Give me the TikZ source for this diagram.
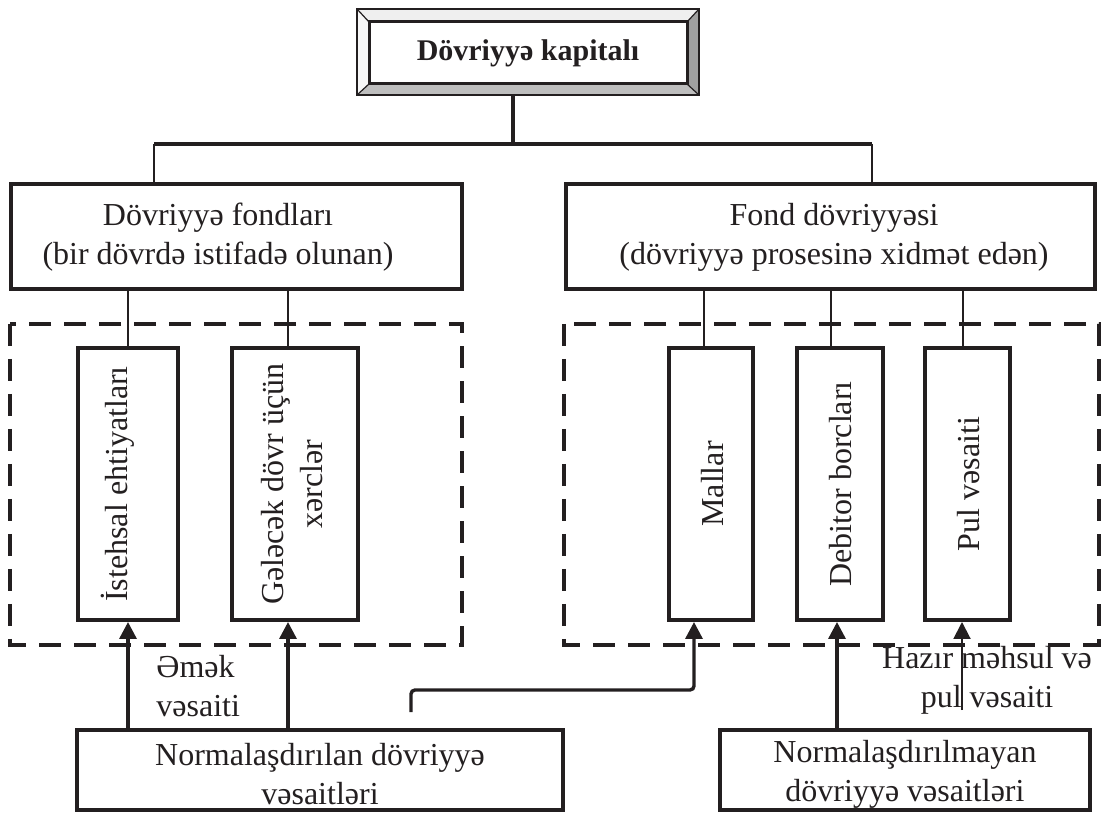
\documentclass[tikz,border=0pt]{standalone}
\usepackage{fontspec}
\setmainfont{Liberation Serif}
\usetikzlibrary{arrows.meta,calc}
\definecolor{ink}{HTML}{231F20}
\definecolor{bevtop}{HTML}{EFEFEF}
\definecolor{bevleft}{HTML}{F7F7F7}
\definecolor{bevbot}{HTML}{BEBEBE}
\definecolor{bevright}{HTML}{A0A0A0}
\tikzset{
  txt/.style={text=ink, align=center, inner sep=0pt, font=\fontsize{16}{19.5}\selectfont},
  frame/.style={draw=ink, line width=2pt, inner sep=0pt},
  thinline/.style={draw=ink, line width=1pt},
  thickline/.style={draw=ink, line width=2pt},
  dashframe/.style={draw=ink, line width=2pt, dash pattern=on 11pt off 6.5pt},
  upar/.style={draw=ink, line width=1.7pt, -{Triangle[length=8.5pt,width=8.5pt]}},
  upthin/.style={draw=ink, line width=1pt, -{Triangle[length=8.5pt,width=8.5pt]}},
}
\begin{document}
\begin{tikzpicture}[x=0.5pt,y=-0.5pt]
\useasboundingbox (0,0) rectangle (1103,817);

% ---- top bevelled box
\node[draw=ink, line width=1pt, minimum width=170pt, minimum height=42pt, inner sep=0pt] (top) at (528,52) {};
\coordinate (tiNW) at ($(top.north west)+(12,13)$);
\coordinate (tiNE) at ($(top.north east)+(-12,13)$);
\coordinate (tiSW) at ($(top.south west)+(12,-11)$);
\coordinate (tiSE) at ($(top.south east)+(-12,-11)$);
\fill[bevtop] (top.north west) -- (top.north east) -- (tiNE) -- (tiNW) -- cycle;
\fill[bevleft] (top.north west) -- (tiNW) -- (tiSW) -- (top.south west) -- cycle;
\fill[bevbot] (top.south west) -- (tiSW) -- (tiSE) -- (top.south east) -- cycle;
\fill[bevright] (top.north east) -- (top.south east) -- (tiSE) -- (tiNE) -- cycle;
\draw[ink, line width=0.6pt] (top.north west) -- (tiNW) (top.north east) -- (tiNE)
  (top.south west) -- (tiSW) (top.south east) -- (tiSE);
\draw[ink, line width=1.5pt] (tiNW) rectangle (tiSE);
\draw[ink, line width=1pt] (top.north west) rectangle (top.south east);
\node[txt, font=\fontsize{15}{18}\selectfont\bfseries] (toptxt) at (528,53) {Dövriyyə kapitalı};

% ---- middle boxes
\node[frame, minimum width=225.5pt, minimum height=52.5pt] (fl) at (236.5,236.5) {};
\node[txt] (flt) at (218,237) {Dövriyyə fondları\\(bir dövrdə istifadə olunan)};
\node[frame, minimum width=264.5pt, minimum height=52.5pt] (fd) at (830.5,236.5) {};
\node[txt] (fdt) at (834,237) {Fond dövriyyəsi\\(dövriyyə prosesinə xidmət edən)};

% ---- tree connectors
\coordinate (tr) at (513,144);
\coordinate (bl) at (154,144);
\coordinate (br) at (872,144);
\draw[thickline] (top.south -| tr) -- (tr);
\draw[thickline] (bl) -- (br);
\draw[thinline] (bl) -- (bl |- fl.north);
\draw[thinline] (br) -- (br |- fd.north);

% ---- dashed groups
\draw[dashframe] (10,324) rectangle (462,645);
\draw[dashframe] (564,324) rectangle (1099,645);

% ---- vertical boxes
\node[frame, minimum width=50pt, minimum height=136pt] (ist) at (128,484) {};
\node[frame, minimum width=63pt, minimum height=136pt] (gel) at (295,484) {};
\node[frame, minimum width=42pt, minimum height=136pt] (mal) at (711,484) {};
\node[frame, minimum width=43pt, minimum height=136pt] (deb) at (840,484) {};
\node[frame, minimum width=42.5pt, minimum height=136pt] (pul) at (967.5,484) {};
\node[txt, rotate=90] (istt) at (118,484) {İstehsal ehtiyatları};
\node[txt, rotate=90] (gelt) at (292,484) {Gələcək dövr üçün\\xərclər};
\node[txt, rotate=90] (malt) at (713,484) {Mallar};
\node[txt, rotate=90] (debt) at (841,484) {Debitor borcları};
\node[txt, rotate=90] (pult) at (969,484) {Pul vəsaiti};

\coordinate (x1) at (128,0);
\coordinate (x2) at (288,0);
\coordinate (x3) at (704,0);
\coordinate (x4) at (831,0);
\coordinate (x5) at (963,0);
\draw[thinline] (fl.south -| x1) -- (ist.north -| x1);
\draw[thinline] (fl.south -| x2) -- (gel.north -| x2);
\draw[thinline] (fd.south -| x3) -- (mal.north -| x3);
\draw[thinline] (fd.south -| x4) -- (deb.north -| x4);
\draw[thinline] (fd.south -| x5) -- (pul.north -| x5);

% ---- bottom boxes
\node[frame, minimum width=243pt, minimum height=40pt] (nl) at (320,770) {};
\node[txt] (nlt) at (320,774) {Normalaşdırılan dövriyyə\\vəsaitləri};
\node[frame, minimum width=185pt, minimum height=40pt] (nr) at (905,770) {};
\node[txt] (nrt) at (905,774) {Normalaşdırılmayan\\dövriyyə vəsaitləri};

% ---- labels
\node[txt, align=left, anchor=west] (emk) at (156,686) {Əmək\\vəsaiti};
\node[txt] (hz) at (987,680) {Hazır məhsul və\\pul vəsaiti};

% ---- arrows
\draw[upar] (nl.north -| x1) -- (ist.south -| x1);
\draw[upar] (nl.north -| x2) -- (gel.south -| x2);
\coordinate (es) at (411,712);
\coordinate (ec) at (411,690);
\coordinate (xe) at (694,0);
\draw[upar, rounded corners=2pt] (es) -- (ec) -| (mal.south -| xe);
\coordinate (xd) at (837,0);
\draw[upar] (nr.north -| xd) -- (deb.south -| xd);
\coordinate (ps) at (962,710);
\draw[upthin] (ps) -- (pul.south -| ps);
\end{tikzpicture}
\end{document}
